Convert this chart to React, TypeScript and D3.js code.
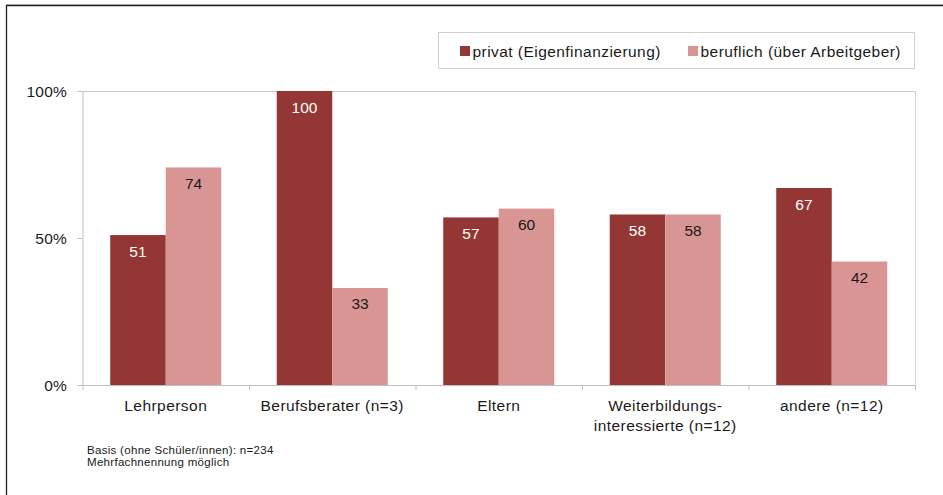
import React from "react";
import * as d3 from "d3";

const categories: string[][] = [
  ["Lehrperson"],
  ["Berufsberater (n=3)"],
  ["Eltern"],
  ["Weiterbildungs-", "interessierte (n=12)"],
  ["andere (n=12)"],
];
const seriesNames = ["privat (Eigenfinanzierung)", "beruflich (über Arbeitgeber)"];
const privat = [51, 100, 57, 58, 67];
const beruflich = [74, 33, 60, 58, 42];
const yTicks = [0, 50, 100];
const footnotes = ["Basis (ohne Schüler/innen): n=234", "Mehrfachnennung möglich"];

const colors = ["#943634", "#D99594"];
const labelColors = ["#ffffff", "#1a1a1a"];
const FONT = "'Liberation Sans', Arial, sans-serif";
const FS = 15.5;
const LS = 0.45;

export default function App() {
  const W = 943, H = 495;
  const left = 82.5, right = 915, top = 91, bottom = 385;
  const idx = categories.map((_, i) => i);
  const x0 = d3.scaleBand<number>().domain(idx).range([left, right]).paddingInner(0).paddingOuter(0);
  const inner = d3.scaleBand<number>().domain([0, 1])
    .range([x0.bandwidth() * 0.1666, x0.bandwidth() * (1 - 0.1666)]).paddingInner(0).paddingOuter(0);
  const y = d3.scaleLinear().domain([0, 100]).range([bottom, top]);
  const series = [privat, beruflich];

  return (
    <svg width={W} height={H} style={{ position: "absolute", left: 0, top: 0, display: "block" }}>
      <rect x={0} y={0} width={W} height={H} fill="#fff" />
      {/* outer frame lines */}
      <line x1={6} y1={4.5} x2={W} y2={4.5} stroke="#cccccc" strokeWidth={1} />
      <line x1={6} y1={5.5} x2={W} y2={5.5} stroke="#222" strokeWidth={1.3} />
      <line x1={6.5} y1={5} x2={6.5} y2={H} stroke="#222" strokeWidth={1.3} />

      {/* legend */}
      <rect x={438.5} y={32.5} width={476} height={36} fill="#fff" stroke="#d0d0d0" />
      {seriesNames.map((s, i) => {
        const lx = i === 0 ? 460 : 688;
        return (
          <g key={s}>
            <rect x={lx} y={46} width={10} height={10} fill={colors[i]} />
            <text x={lx + 12.5} y={56.5} fontFamily={FONT} fontSize={FS} letterSpacing={LS} fill="#1a1a1a">{s}</text>
          </g>
        );
      })}

      {/* plot border */}
      <line x1={left} y1={top + 0.5} x2={right} y2={top + 0.5} stroke="#c8c8c8" />
      <line x1={right + 0.5} y1={top} x2={right + 0.5} y2={bottom} stroke="#d4d4d4" />

      {/* bars */}
      {idx.map((ci) =>
        series.map((vals, si) => {
          const bx = (x0(ci) as number) + (inner(si) as number);
          const bw = inner.bandwidth();
          const v = vals[ci];
          return (
            <g key={`${ci}-${si}`}>
              <rect x={bx} y={y(v)} width={bw} height={bottom - y(v)} fill={colors[si]} />
              <text x={bx + bw / 2} y={y(v) + 21.5} textAnchor="middle" fontFamily={FONT} fontSize={FS} fill={labelColors[si]}>{v}</text>
            </g>
          );
        })
      )}

      {/* y axis */}
      <line x1={left + 0.5} y1={top} x2={left + 0.5} y2={bottom} stroke="#bfbfbf" />
      {yTicks.map((t) => (
        <g key={t}>
          <line x1={left - 5} y1={y(t) + 0.5} x2={left} y2={y(t) + 0.5} stroke="#bfbfbf" />
          <text x={67} y={y(t) + 5.5} textAnchor="end" fontFamily={FONT} fontSize={FS} letterSpacing={0.2} fill="#1a1a1a">{t}%</text>
        </g>
      ))}

      {/* x axis */}
      <line x1={left} y1={bottom + 0.5} x2={right + 1} y2={bottom + 0.5} stroke="#bfbfbf" />
      {[...idx, idx.length].map((i) => {
        const xx = i < idx.length ? (x0(i) as number) : right;
        return <line key={i} x1={xx + 0.5} y1={bottom} x2={xx + 0.5} y2={bottom + 5} stroke="#bfbfbf" />;
      })}
      {categories.map((lines, ci) => (
        <text key={ci} textAnchor="middle" fontFamily={FONT} fontSize={FS} letterSpacing={LS} fill="#1a1a1a">
          {lines.map((l, li) => (
            <tspan key={li} x={(x0(ci) as number) + x0.bandwidth() / 2} y={411 + li * 20}>{l}</tspan>
          ))}
        </text>
      ))}

      {/* footnotes */}
      {footnotes.map((f, i) => (
        <text key={i} x={87} y={453.5 + i * 12} fontFamily={FONT} fontSize={11.5} letterSpacing={0.3} fill="#1a1a1a">{f}</text>
      ))}
    </svg>
  );
}
